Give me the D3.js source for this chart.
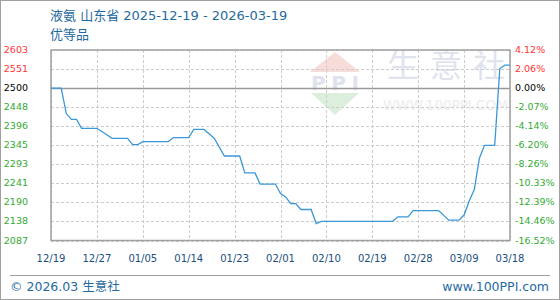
<!DOCTYPE html>
<html>
<head>
<meta charset="utf-8">
<script src="https://cdn.jsdelivr.net/npm/d3@7"></script>
<style>
  body { margin: 0; background: #fff; }
  svg text { font-family: "DejaVu Sans", "Noto Sans CJK SC", sans-serif; }
</style>
</head>
<body>
<div id="chart"></div>
<script>
// data
const dates = ["2025-12-19", "2025-12-21", "2025-12-22", "2025-12-23", "2025-12-24", "2025-12-25",
  "2025-12-28", "2025-12-31", "2026-01-03", "2026-01-04", "2026-01-05", "2026-01-06",
  "2026-01-11", "2026-01-12", "2026-01-15", "2026-01-16", "2026-01-18", "2026-01-20",
  "2026-01-22", "2026-01-25", "2026-01-26", "2026-01-28", "2026-01-29", "2026-02-01",
  "2026-02-02", "2026-02-03", "2026-02-04", "2026-02-05", "2026-02-06", "2026-02-08",
  "2026-02-09", "2026-02-10", "2026-02-24", "2026-02-25", "2026-02-27", "2026-02-28",
  "2026-03-05", "2026-03-07", "2026-03-09", "2026-03-10", "2026-03-11", "2026-03-12",
  "2026-03-13", "2026-03-14", "2026-03-16", "2026-03-17", "2026-03-18", "2026-03-19"];
const prices = [2500, 2500, 2431, 2415, 2415, 2391,
  2391, 2364, 2364, 2347, 2347, 2355,
  2355, 2366, 2366, 2388, 2388, 2364,
  2316, 2316, 2270, 2270, 2240, 2240,
  2214, 2205, 2187, 2187, 2171, 2171,
  2133, 2139, 2139, 2151, 2151, 2168,
  2168, 2142, 2142, 2156, 2194, 2225,
  2310, 2345, 2345, 2553, 2562, 2562];

const xTickLabels = ["12/19", "12/27", "01/05", "01/14", "01/23", "02/01", "02/10", "02/19", "02/28", "03/09", "03/18"];
const leftLabels = ["2603", "2551", "2500", "2448", "2396", "2345", "2293", "2241", "2190", "2138", "2087"];
const rightLabels = ["4.12%", "2.06%", "0.00%", "-2.07%", "-4.14%", "-6.20%", "-8.26%", "-10.33%", "-12.39%", "-14.46%", "-16.52%"];

const basePrice = 2500;
const step = 51.625;

const W = 560, H = 300;
const margin = {top: 50, right: 50, bottom: 60, left: 51};
const pw = 510 - margin.left, ph = 240.5 - margin.top;

const svg = d3.select("#chart").append("svg")
  .attr("width", W).attr("height", H);

// outer frame
svg.append("rect")
  .attr("x", 0.5).attr("y", 0.5)
  .attr("width", W - 1).attr("height", H - 1)
  .attr("fill", "#fff").attr("stroke", "#a0a0a0");

const parse = d3.timeParse("%Y-%m-%d");
const start = parse("2025-12-19"), end = parse("2026-03-19");

const x = d3.scaleTime().domain([start, end]).range([0, pw]);
const yTicks = leftLabels.map((d, i) => basePrice + (2 - i) * step);
const y = d3.scaleLinear().domain([yTicks[yTicks.length - 1], yTicks[0]]).range([ph, 0]);
const xTicks = xTickLabels.map((d, i) => d3.timeDay.offset(start, i * 9));

const g = svg.append("g").attr("transform", "translate(" + margin.left + "," + margin.top + ")");

// watermark (logo + name)
const wm = g.append("g");
wm.append("path")
  .attr("d", "M284,2 L309,22 L259,22 Z")
  .attr("fill", "#f8dcda");
wm.append("text")
  .attr("x", 284).attr("y", 40)
  .attr("text-anchor", "middle")
  .attr("font-size", 20).attr("font-weight", "bold")
  .attr("font-family", "Liberation Serif, serif")
  .attr("textLength", 48)
  .attr("fill", "#dfe3ee")
  .text("PPI");
wm.append("path")
  .attr("d", "M260,43 L308,43 L284,65 Z")
  .attr("fill", "#dcefdd");
wm.append("text")
  .attr("x", 336).attr("y", 27)
  .attr("font-size", 32).attr("letter-spacing", 11)
  .attr("fill", "#dfe3ee")
  .text("生意社");
wm.append("text")
  .attr("x", 332).attr("y", 60)
  .attr("font-size", 13.5)
  .attr("fill", "#ececec")
  .text("WWW.100PPI.COM");

// grid
g.selectAll(".hgrid").data(yTicks).enter().append("line")
  .attr("x1", 0).attr("x2", pw)
  .attr("y1", d => Math.round(y(d)) + 0.5).attr("y2", d => Math.round(y(d)) + 0.5)
  .attr("stroke", d => d === basePrice ? "#999" : "#ccc")
  .attr("stroke-width", d => d === basePrice ? 1.5 : 1)
  .attr("stroke-dasharray", d => d === basePrice ? null : "3,2");

g.selectAll(".vgrid").data(xTicks).enter().append("line")
  .attr("y1", 0).attr("y2", ph)
  .attr("x1", d => Math.round(x(d)) + 0.5).attr("x2", d => Math.round(x(d)) + 0.5)
  .attr("stroke", "#ccc")
  .attr("stroke-dasharray", "3,2");

// plot border
g.append("rect")
  .attr("x", 0).attr("y", 0).attr("width", pw).attr("height", ph)
  .attr("fill", "none").attr("stroke", "#a0a0a0").attr("stroke-width", 1.5);

// y labels
function labelColor(i) { return i < 2 ? "#ff3333" : (i === 2 ? "#000" : "#33aa33"); }

g.selectAll(".ly").data(yTicks).enter().append("text")
  .attr("x", -23).attr("y", d => y(d) + 3)
  .attr("text-anchor", "end")
  .attr("font-size", 9.5)
  .attr("fill", (d, i) => labelColor(i))
  .text((d, i) => leftLabels[i]);

g.selectAll(".ry").data(yTicks).enter().append("text")
  .attr("x", pw + 5).attr("y", d => y(d) + 3)
  .attr("font-size", 9.5)
  .attr("fill", (d, i) => labelColor(i))
  .text((d, i) => rightLabels[i]);

// x labels
g.selectAll(".lx").data(xTicks).enter().append("text")
  .attr("x", d => x(d)).attr("y", ph + 21)
  .attr("text-anchor", "middle")
  .attr("font-size", 10)
  .attr("fill", "#1a4f80")
  .text((d, i) => xTickLabels[i]);

// line
const pts = dates.map((d, i) => ({date: parse(d), value: prices[i]}));
const line = d3.line().x(d => x(d.date)).y(d => y(d.value));
g.append("path")
  .datum(pts)
  .attr("d", line)
  .attr("fill", "none")
  .attr("stroke", "#3a98d8")
  .attr("stroke-width", 1.3);

// title
svg.append("text")
  .attr("x", 50).attr("y", 20)
  .attr("font-size", 13)
  .attr("fill", "#1f6aa0")
  .text("液氨 山东省 2025-12-19 - 2026-03-19");
svg.append("text")
  .attr("x", 50).attr("y", 39)
  .attr("font-size", 13)
  .attr("fill", "#1f6aa0")
  .text("优等品");

// footer
svg.append("line")
  .attr("x1", 10).attr("x2", 550)
  .attr("y1", 275.5).attr("y2", 275.5)
  .attr("stroke", "#a0a0a0");
svg.append("text")
  .attr("x", 10).attr("y", 291)
  .attr("font-size", 12.5)
  .attr("fill", "#1f6aa0")
  .text("© 2026.03 生意社");
svg.append("text")
  .attr("x", 549).attr("y", 291)
  .attr("text-anchor", "end")
  .attr("font-size", 12.5)
  .attr("fill", "#1f6aa0")
  .text("www.100PPI.com");
</script>
</body>
</html>
